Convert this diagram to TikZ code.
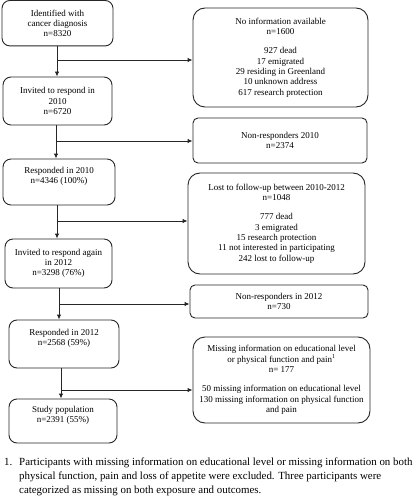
\documentclass[tikz,border=0pt]{standalone}
\usepackage{fontspec}
\setmainfont{Liberation Serif}
\usetikzlibrary{arrows.meta}
\begin{document}
\begin{tikzpicture}[x=1pt,y=-1pt,
  box/.style={draw=black!85, line width=0.9pt, rounded corners=8pt, align=center,
    inner sep=0pt, font=\fontsize{9}{10.3}\selectfont},
  bigbox/.style={box, rounded corners=12pt},
  flatbox/.style={box, rounded corners=5pt},
  conn/.style={draw=black!85, line width=0.9pt, -{Latex[length=5pt,width=4.5pt]}},
  foot/.style={font=\fontsize{10.9}{14}\selectfont, inner sep=0pt, align=left}
]
\useasboundingbox (0,0) rectangle (412,500);

% left column
\node[box, minimum width=111pt, minimum height=45.5pt] (b1) at (57.5,23.2) {Identified with\\cancer diagnosis\\n=8320};
\node[box, minimum width=109pt, minimum height=48pt] (b2) at (57.5,101) {Invited to respond in\\2010\\n=6720};
\node[box, minimum width=112pt, minimum height=46pt] (b3) at (59,182) {Responded in 2010\\n=4346 (100\%)\\[3pt]\mbox{}};
\node[box, minimum width=107pt, minimum height=49pt] (b4) at (58.5,263.5) {Invited to respond again\\in 2012\\n=3298 (76\%)};
\node[box, minimum width=110pt, minimum height=48pt] (b5) at (64,344) {Responded in 2012\\n=2568 (59\%)\\[3pt]\mbox{}};
\node[box, minimum width=108pt, minimum height=44pt] (b6) at (63,421) {Study population\\n=2391 (55\%)\\[3pt]\mbox{}};

% right column
\node[bigbox, minimum width=175pt, minimum height=99pt] (n1) at (280.5,57.5)
  {No information available\\n=1600\\[9pt]927 dead\\17 emigrated\\29 residing in Greenland\\10 unknown address\\617 research protection};
\node[flatbox, minimum width=174pt, minimum height=45pt] (n2) at (280,140.5) {Non-responders 2010\\n=2374};
\node[bigbox, minimum width=177pt, minimum height=101pt] (n3) at (276.5,223.5)
  {Lost to follow-up between 2010-2012\\n=1048\\[9pt]777 dead\\3 emigrated\\15 research protection\\11 not interested in participating\\242 lost to follow-up};
\node[flatbox, minimum width=178pt, minimum height=33pt] (n4) at (279,301.5) {Non-responders in 2012\\n=730};
\node[bigbox, minimum width=177pt, minimum height=86pt] (n5) at (281.5,380)
  {Missing information on educational level\\or physical function and pain\textsuperscript{1}\\n= 177\\[9pt]50 missing information on educational level\\130 missing information on physical function\\and pain};

% junctions
\coordinate (j1) at (57,60);
\coordinate (j2) at (56,141);
\coordinate (j3) at (57,221);
\coordinate (j4) at (59,304);
\coordinate (j5) at (61,390);

\draw[conn] (b1.south -| j1) -- (b2.north -| j1);
\draw[conn] (j1) -- (j1 -| n1.west);
\draw[conn] (b2.south -| j2) -- (b3.north -| j2);
\draw[conn] (j2) -- (j2 -| n2.west);
\draw[conn] (b3.south -| j3) -- (b4.north -| j3);
\draw[conn] (j3) -- (j3 -| n3.west);
\draw[conn] (b4.south -| j4) -- (b5.north -| j4);
\draw[conn] (j4) -- (j4 -| n4.west);
\draw[conn] (b5.south -| j5) -- (b6.north -| j5);
\draw[conn] (j5) -- (j5 -| n5.west);

% footnote
\node[foot, anchor=north west] (fnum) at (4,458) {\vphantom{Pl}1.};
\node[foot, anchor=north west] (fn) at (19,458)
  {Participants with missing information on educational level or missing information on both\\
   physical function, pain and loss of appetite were excluded. Three participants were\\
   categorized as missing on both exposure and outcomes.};
\end{tikzpicture}
\end{document}
